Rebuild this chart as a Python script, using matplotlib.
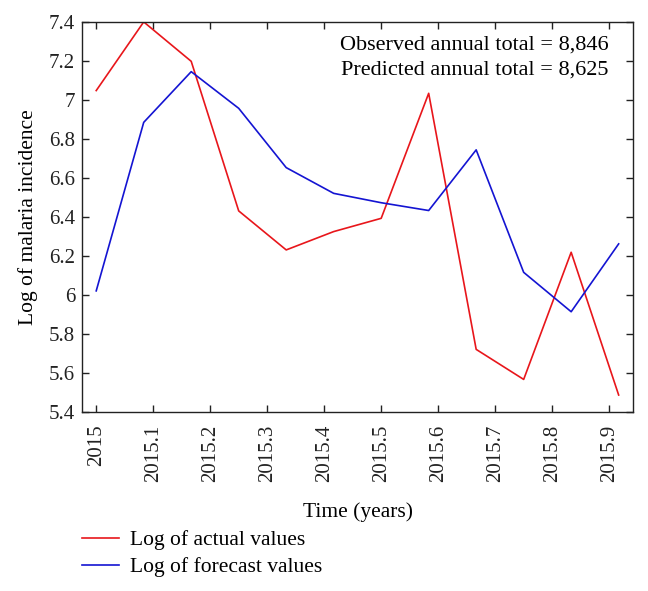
import matplotlib
matplotlib.use('Agg')
import matplotlib.pyplot as plt
import numpy as np

plt.rcParams['font.family'] = ['Liberation Serif', 'DejaVu Serif']
plt.rcParams['mathtext.fontset'] = 'stix'

# monthly time points of 2015
time = [2015 + m / 12 for m in range(12)]
actual = [7.048, 7.400, 7.198, 6.431, 6.231, 6.325, 6.393, 7.034, 5.721, 5.567, 6.219, 5.487]
forecast = [6.021, 6.885, 7.145, 6.957, 6.653, 6.521, 6.473, 6.433, 6.744, 6.116, 5.914, 6.262]
xticks = [2015, 2015.1, 2015.2, 2015.3, 2015.4, 2015.5, 2015.6, 2015.7, 2015.8, 2015.9]
yticks = [5.4, 5.6, 5.8, 6, 6.2, 6.4, 6.6, 6.8, 7, 7.2, 7.4]
observed_total = '8,846'
predicted_total = '8,625'

fig = plt.figure(figsize=(6.48, 5.91), dpi=100)
ax = fig.add_axes([0.1265, 0.3029, 0.8505, 0.66])

l1, = ax.plot(time, actual, color='#e8161b', lw=1.2, label='Log of actual values')
l2, = ax.plot(time, forecast, color='#1414d2', lw=1.2, label='Log of forecast values')

ax.set_xlim(2014.975, 2015.942)
ax.set_ylim(5.4, 7.4)
ax.set_xticks(xticks)
ax.set_xticklabels([('%g' % t) for t in xticks], rotation=90)
ax.set_yticks(yticks)
ax.set_yticklabels([('%g' % t) for t in yticks])
ax.tick_params(direction='in', top=True, right=True, labeltop=False, labelright=False,
               length=5, width=1, labelsize=15, colors='#222222')
ax.tick_params(axis='x', pad=9)
ax.tick_params(axis='y', pad=5)
for s in ax.spines.values():
    s.set_linewidth(1)
    s.set_color('#222222')

ax.set_ylabel('Log of malaria incidence', fontsize=15.5, labelpad=8)
ax.set_xlabel('Time (years)', fontsize=15.5, labelpad=15)

ax.text(0.955, 0.965, 'Observed annual total = ' + observed_total + '\n'
        'Predicted annual total = ' + predicted_total,
        transform=ax.transAxes, ha='right', va='top', fontsize=16,
        linespacing=1.45)

fig.legend(handles=[l1, l2], loc='upper left', bbox_to_anchor=(0.127, 0.103),
           frameon=False, fontsize=15.5, handlelength=1.7, handletextpad=0.5,
           labelspacing=0.32, borderaxespad=0, borderpad=0)

fig.savefig('out.png', dpi=100)
